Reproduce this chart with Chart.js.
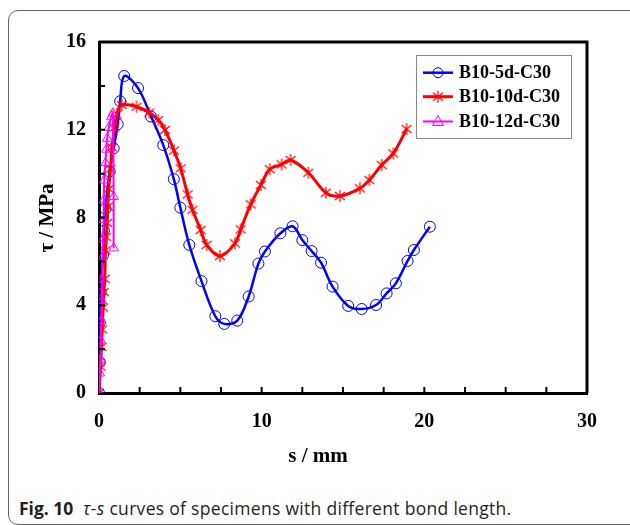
<!DOCTYPE html>
<html>
<head>
<meta charset="utf-8">
<script src="https://cdn.jsdelivr.net/npm/chart.js@4.4.1/dist/chart.umd.min.js"></script>
<style>
  html, body { margin: 0; padding: 0; background: #fff; width: 630px; height: 525px; overflow: hidden; }
  #frame { position: absolute; left: 8px; top: 10px; width: 640px; height: 513px; border: 1px solid #666; border-radius: 10px; }
  #c { position: absolute; left: 0; top: 0; }
  #cap { position: absolute; left: 19px; top: 496px; line-height: 24px; font-family: "Open Sans", sans-serif; font-size: 17.5px; color: #231f20; white-space: nowrap; letter-spacing: 0.3px; }
  #cap b { font-weight: 700; letter-spacing: 0; }
</style>
</head>
<body>
<div id="frame"></div>
<canvas id="c" width="630" height="480"></canvas>
<div id="cap"><b>Fig. 10</b>&nbsp; <i>τ</i>-<i>s</i> curves of specimens with different bond length.</div>
<script>
// ---- data ----
const seriesLabels = ["B10-5d-C30", "B10-10d-C30", "B10-12d-C30"];

const blueS = [0, 0.05, 0.05, 0.1, 0.25, 0.3, 0.4, 0.65, 0.9, 1.15, 1.3, 1.55, 2.4, 3.2, 3.95, 4.6, 5.0, 5.55, 6.3, 7.15, 7.7, 8.5, 9.2, 9.8, 10.2, 11.15, 11.9, 12.5, 13.07, 13.65, 14.36, 15.32, 16.15, 17.03, 17.68, 18.25, 18.97, 19.36, 20.34];
const blueT = [0, 1.4, 3.2, 4.6, 6.3, 7.4, 8.4, 10.1, 11.15, 12.25, 13.3, 14.45, 13.9, 12.6, 11.3, 9.75, 8.45, 6.75, 5.1, 3.5, 3.15, 3.3, 4.4, 5.9, 6.45, 7.28, 7.6, 6.97, 6.47, 5.94, 4.85, 3.97, 3.83, 4.01, 4.54, 5.0, 6.02, 6.52, 7.58];

const redS = [0, 0.1, 0.15, 0.2, 0.25, 0.3, 0.35, 0.4, 0.45, 0.5, 0.55, 0.6, 0.7, 0.8, 0.95, 1.1, 1.4, 2.31, 3.09, 3.65, 4.06, 4.61, 5.02, 5.45, 5.75, 6.25, 6.62, 7.44, 8.36, 8.71, 9.33, 9.95, 10.5, 11.23, 11.78, 12.87, 13.95, 14.81, 16.04, 16.62, 17.38, 18.09, 18.91];
const redT = [0, 1.2, 2.1, 2.9, 3.9, 4.6, 5.2, 6.5, 7.1, 7.75, 8.5, 9.3, 10.2, 11.2, 12.1, 12.7, 13.13, 13.05, 12.78, 12.44, 11.99, 11.05, 10.24, 9.05, 8.35, 7.43, 6.75, 6.24, 6.82, 7.46, 8.6, 9.48, 10.2, 10.42, 10.62, 10.04, 9.13, 8.98, 9.33, 9.71, 10.39, 10.92, 12.03];

const pinkS = [0, 0.05, 0.1, 0.12, 0.15, 0.18, 0.2, 0.22, 0.25, 0.3, 0.3, 0.32, 0.4, 0.45, 0.5, 0.6, 0.75, 0.85, 0.9, 0.9];
const pinkT = [0, 0.9, 1.5, 2.4, 3.3, 4.2, 5.2, 6.2, 7.0, 7.9, 8.8, 9.7, 10.5, 11.1, 11.6, 12.1, 12.6, 12.75, 8.95, 6.6];

const xTickLabels = [0, 10, 20, 30];
const yTickLabels = [0, 4, 8, 12, 16];

// ---- helpers ----
const toPts = (xs, ys) => xs.map((x, i) => ({ x: x, y: ys[i] }));

function starMarker(color) {
  const c = document.createElement('canvas');
  c.width = 14; c.height = 14;
  const g = c.getContext('2d');
  g.strokeStyle = color; g.lineWidth = 1.2;
  g.beginPath();
  g.moveTo(7, 1); g.lineTo(7, 13);
  g.moveTo(2, 3); g.lineTo(12, 11);
  g.moveTo(12, 3); g.lineTo(2, 11);
  g.stroke();
  return c;
}
const redStar = starMarker('#ff0000');

const serif = "'Liberation Serif', 'Times New Roman', serif";

const frameTicks = {
  id: 'frameTicks',
  afterDatasetsDraw(chart) {
    const { ctx, chartArea: a, scales: { x, y } } = chart;
    ctx.save();
    ctx.strokeStyle = '#000';
    ctx.lineWidth = 3;
    ctx.beginPath();
    ctx.moveTo(a.left, a.top); ctx.lineTo(a.right, a.top); ctx.lineTo(a.right, a.bottom);
    ctx.stroke();
    ctx.lineWidth = 2;
    ctx.beginPath();
    for (let v = 2.5; v < 30; v += 2.5) {
      const px = x.getPixelForValue(v);
      ctx.moveTo(px, a.bottom); ctx.lineTo(px, a.bottom - 6);
    }
    for (let v = 2; v < 16; v += 2) {
      const py = y.getPixelForValue(v);
      ctx.moveTo(a.left, py); ctx.lineTo(a.left + 6, py);
    }
    ctx.stroke();

    // axis titles
    ctx.fillStyle = '#000';
    ctx.font = "bold 21px " + serif;
    ctx.textAlign = 'center';
    ctx.textBaseline = 'middle';
    ctx.fillText('s / mm', 318, 457);
    ctx.save();
    ctx.translate(48, 218);
    ctx.rotate(-Math.PI / 2);
    ctx.fillText('τ / MPa', 0, 0);
    ctx.restore();

    // legend
    const lx = 416, ly = 55, lw = 155, lh = 83;
    ctx.fillStyle = '#fff';
    ctx.fillRect(lx, ly, lw, lh);
    ctx.strokeStyle = '#888';
    ctx.lineWidth = 1;
    ctx.strokeRect(lx + 0.5, ly + 0.5, lw, lh);
    const rows = [72.7, 96.7, 121.5];
    chart.data.datasets.forEach((ds, i) => {
      const yy = rows[i];
      ctx.strokeStyle = ds.borderColor;
      ctx.lineWidth = ds.borderWidth;
      ctx.beginPath(); ctx.moveTo(423, yy); ctx.lineTo(453, yy); ctx.stroke();
      ctx.lineWidth = 1;
      if (i === 0) {
        ctx.beginPath(); ctx.arc(438, yy, 5, 0, Math.PI * 2); ctx.stroke();
      } else if (i === 1) {
        ctx.drawImage(redStar, 431, yy - 7);
      } else {
        ctx.beginPath(); ctx.moveTo(438, yy - 6); ctx.lineTo(443.5, yy + 4); ctx.lineTo(432.5, yy + 4); ctx.closePath(); ctx.stroke();
      }
      ctx.fillStyle = '#000';
      ctx.font = "bold 18px " + serif;
      ctx.textAlign = 'left';
      ctx.textBaseline = 'middle';
      ctx.fillText(ds.label, 459, yy + 1);
    });
    ctx.restore();
  }
};

new Chart(document.getElementById('c'), {
  type: 'line',
  data: {
    datasets: [
      { label: seriesLabels[0], data: toPts(blueS, blueT), borderColor: '#0000ff', borderWidth: 2.5,
        pointStyle: 'circle', pointRadius: 5.5, pointBorderWidth: 1, pointBorderColor: '#0000ff', pointBackgroundColor: 'rgba(0,0,0,0)', tension: 0.35, order: 3 },
      { label: seriesLabels[1], data: toPts(redS, redT), borderColor: '#ff0000', borderWidth: 3,
        pointStyle: redStar, pointRadius: 6, tension: 0.35, order: 2 },
      { label: seriesLabels[2], data: toPts(pinkS, pinkT), borderColor: '#ff00ff', borderWidth: 2,
        pointStyle: 'triangle', pointRadius: 5.5, pointBorderWidth: 1, pointBorderColor: '#ff00ff', pointBackgroundColor: 'rgba(0,0,0,0)', tension: 0.3, order: 1 }
    ]
  },
  options: {
    responsive: false,
    animation: false,
    devicePixelRatio: 1,
    layout: { padding: { top: 42, right: 43, left: 0, bottom: 0 } },
    plugins: { legend: { display: false }, tooltip: { enabled: false } },
    scales: {
      x: {
        type: 'linear', min: 0, max: 30,
        afterFit(s) { s.height = 87; },
        grid: { display: false, drawTicks: false },
        border: { display: true, color: '#000', width: 3 },
        ticks: { stepSize: 10, autoSkip: false, padding: 17, color: '#000', font: { family: serif, size: 20, weight: 'bold' },
          callback: v => xTickLabels.includes(v) ? String(v) : '' }
      },
      y: {
        type: 'linear', min: 0, max: 16,
        afterFit(s) { s.width = 99; },
        grid: { display: false, drawTicks: false },
        border: { display: true, color: '#000', width: 3 },
        ticks: { stepSize: 4, autoSkip: false, padding: 13, color: '#000', font: { family: serif, size: 20, weight: 'bold' },
          callback: v => yTickLabels.includes(v) ? String(v) : '' }
      }
    }
  },
  plugins: [frameTicks]
});
</script>
</body>
</html>
